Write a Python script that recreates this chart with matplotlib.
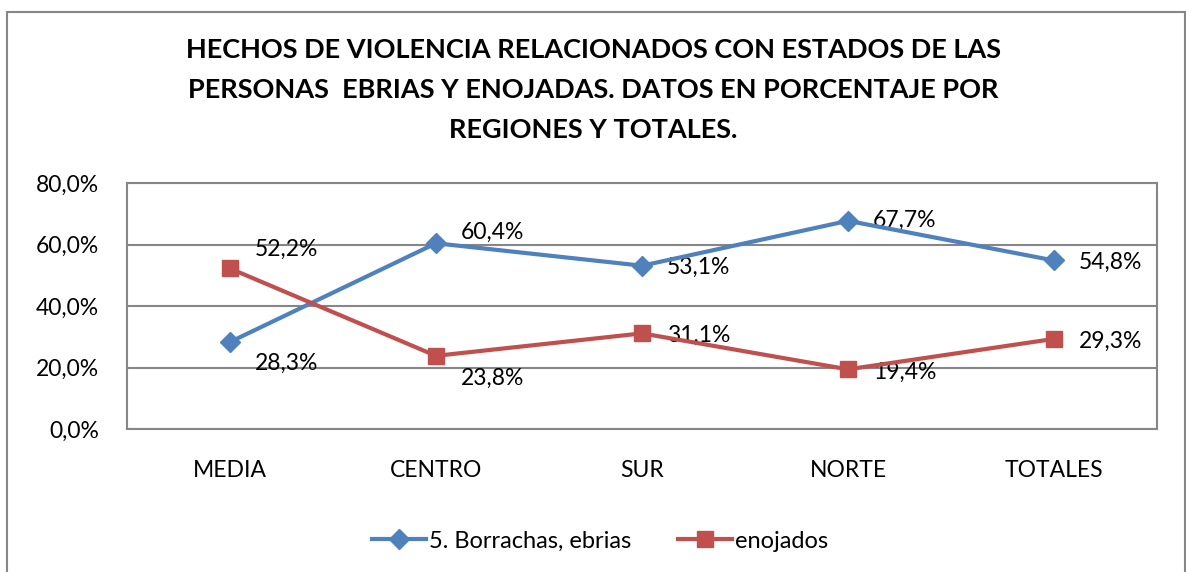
import matplotlib.pyplot as plt
from matplotlib.patches import Rectangle

plt.rcParams['font.family'] = ['Lato', 'DejaVu Sans']

# data
regiones = ["MEDIA", "CENTRO", "SUR", "NORTE", "TOTALES"]
ebrias = [28.3, 60.4, 53.1, 67.7, 54.8]
enojados = [52.2, 23.8, 31.1, 19.4, 29.3]
y_ticks = [0, 20, 40, 60, 80]

# vertical label offsets (pixels)
off_ebrias = [-21, 11, -2, 0, -2]
off_enojados = [19, -23, -2, -3, -2]

fs = 16.5

fig = plt.figure(figsize=(11.86, 5.72), dpi=100)
W, H = 1186, 572
# plot area in pixels: left 127, right 1157, top 183, bottom 429
ax = fig.add_axes([127 / W, 1 - 429 / H, 1030 / W, 246 / H])

x = range(len(regiones))
blue = '#4F81BD'
red = '#C0504D'
l1, = ax.plot(x, ebrias, color=blue, lw=3, marker='D', ms=10,
              label='5. Borrachas, ebrias', zorder=4)
l2, = ax.plot(x, enojados, color=red, lw=3, marker='s', ms=12,
              label='enojados', zorder=4)

for i in x:
    ax.annotate(f"{ebrias[i]:.1f}%".replace('.', ','), (i, ebrias[i]),
                xytext=(25, off_ebrias[i]), textcoords='offset pixels',
                ha='left', va='center', fontsize=fs, zorder=3)
    ax.annotate(f"{enojados[i]:.1f}%".replace('.', ','), (i, enojados[i]),
                xytext=(25, off_enojados[i]), textcoords='offset pixels',
                ha='left', va='center', fontsize=fs, zorder=3)

ax.set_xlim(-0.5, len(regiones) - 0.5)
ax.set_ylim(0, 80)
ax.set_yticks(y_ticks)
ax.set_yticklabels([f"{v:.1f}%".replace('.', ',') for v in y_ticks], fontsize=fs)
ax.set_xticks(list(x))
ax.set_xticklabels(regiones, fontsize=fs)
ax.tick_params(length=0)
ax.tick_params(axis='y', pad=20)
ax.tick_params(axis='x', pad=22)
ax.grid(axis='y', color='#868686', lw=1.5)
ax.set_axisbelow(True)
for s in ax.spines.values():
    s.set_color('#868686')
    s.set_linewidth(1.5)

fig.text(0.5, 1 - 90 / H,
         "HECHOS DE VIOLENCIA RELACIONADOS CON ESTADOS DE LAS\n"
         "PERSONAS  EBRIAS Y ENOJADAS. DATOS EN PORCENTAJE POR\n"
         "REGIONES Y TOTALES.",
         ha='center', va='center', fontsize=19.5, fontweight='bold',
         linespacing=1.82)

fig.legend(handles=[l1, l2], loc='center', bbox_to_anchor=(600 / W, 1 - 541 / H),
           ncol=2, frameon=False, fontsize=17, handlelength=2.3,
           handletextpad=0.1, columnspacing=2.0)

fig.patches.append(Rectangle((7 / W, -0.01), 1178 / W, 1 - 12 / H + 0.01,
                             transform=fig.transFigure, fill=False,
                             edgecolor='#868686', lw=1.5))

fig.savefig('out.png', dpi=100)
